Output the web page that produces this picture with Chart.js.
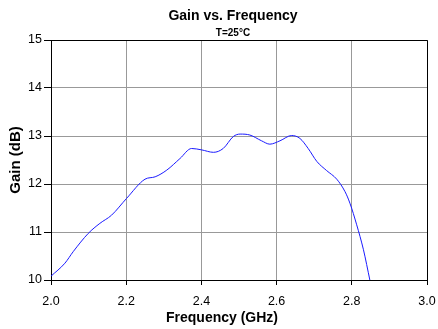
<!DOCTYPE html>
<html>
<head>
<meta charset="utf-8">
<script src="https://cdn.jsdelivr.net/npm/chart.js@4/dist/chart.umd.min.js"></script>
<style>
  body { margin: 0; background: #fff; }
  canvas { display: block; }
</style>
</head>
<body>
<canvas id="myChart" width="438" height="329"></canvas>
<script>
// --- data --- //
let freqGHz = [2.0, 2.037, 2.059, 2.099, 2.13, 2.161, 2.201, 2.25, 2.277, 2.308, 2.343, 2.374, 2.401, 2.432, 2.458, 2.485, 2.503, 2.529, 2.56, 2.582, 2.609, 2.64, 2.662, 2.684, 2.707, 2.733, 2.76, 2.782, 2.795, 2.813, 2.831, 2.848];
let gainDb = [10.08, 10.35, 10.59, 10.97, 11.18, 11.35, 11.7, 12.1, 12.15, 12.29, 12.53, 12.74, 12.71, 12.66, 12.74, 12.99, 13.04, 13.02, 12.9, 12.83, 12.9, 13.01, 12.95, 12.74, 12.47, 12.28, 12.1, 11.84, 11.6, 11.15, 10.63, 10.0];
let xTicks = [2.0, 2.2, 2.4, 2.6, 2.8, 3.0];
let yTicks = [10, 11, 12, 13, 14, 15];

let chartTitle = "Gain vs. Frequency";
let chartSubtitle = "T=25°C";
let xTitle = "Frequency (GHz)";
let yTitle = "Gain (dB)";

const fontFamily = '"Liberation Sans", Arial, sans-serif';

// frame on top/right + titles placed like the excel original
const framePlugin = {
  id: "frameAndTitles",
  afterDraw(chart) {
    const ctx = chart.ctx;
    const area = chart.chartArea;
    ctx.save();
    ctx.strokeStyle = "#000";
    ctx.lineWidth = 1;
    ctx.beginPath();
    ctx.moveTo(area.left, area.top + 0.5);
    ctx.lineTo(area.right + 0.5, area.top + 0.5);
    ctx.lineTo(area.right + 0.5, area.bottom);
    ctx.stroke();

    ctx.fillStyle = "#000";
    ctx.textAlign = "center";
    ctx.textBaseline = "alphabetic";
    ctx.font = "bold 14px " + fontFamily;
    ctx.fillText(chartTitle, 233, 20);
    ctx.font = "bold 10px " + fontFamily;
    ctx.fillText(chartSubtitle, 233, 36);
    ctx.font = "bold 14px " + fontFamily;
    ctx.fillText(xTitle, 222, 322);
    ctx.restore();
  },
};

const ctx = document.getElementById("myChart");

let myChart = new Chart(ctx, {
  type: "line",
  data: {
    datasets: [
      {
        label: "Gain",
        data: freqGHz.map((f, i) => ({ x: f, y: gainDb[i] })),
        borderColor: "#1a1aff",
        borderWidth: 1,
        pointRadius: 0,
        fill: false,
        cubicInterpolationMode: "monotone",
      },
    ],
  },
  options: {
    responsive: false,
    animation: false,
    devicePixelRatio: 1,
    layout: {
      padding: { top: 40, right: 11, bottom: 0, left: 0 },
    },
    plugins: {
      legend: { display: false },
      tooltip: { enabled: false },
      title: { display: false },
    },
    scales: {
      x: {
        type: "linear",
        min: xTicks[0],
        max: xTicks[xTicks.length - 1],
        afterBuildTicks: (scale) => {
          scale.ticks = xTicks.map((v) => ({ value: v }));
        },
        afterFit: (scale) => {
          scale.height = 49;
          scale.paddingLeft = 0;
          scale.paddingRight = 0;
        },
        ticks: {
          color: "#000",
          padding: 9,
          font: { family: fontFamily, size: 12.5 },
          callback: (v) => Number(v).toFixed(1),
        },
        grid: {
          color: "#999",
          tickColor: "#000",
          tickLength: 5,
        },
        border: { color: "#000", width: 1 },
      },
      y: {
        min: yTicks[0],
        max: yTicks[yTicks.length - 1],
        afterBuildTicks: (scale) => {
          scale.ticks = yTicks.map((v) => ({ value: v }));
        },
        afterFit: (scale) => {
          scale.width = 51;
          scale.paddingTop = 0;
          scale.paddingBottom = 0;
        },
        ticks: {
          color: "#000",
          padding: 2,
          font: { family: fontFamily, size: 12.5 },
        },
        grid: {
          color: "#999",
          tickColor: "#000",
          tickLength: 7,
        },
        border: { color: "#000", width: 1 },
        title: {
          display: true,
          text: yTitle,
          color: "#000",
          padding: { top: 7, bottom: 0 },
          font: { family: fontFamily, size: 15, weight: "bold" },
        },
      },
    },
  },
  plugins: [framePlugin],
});
</script>
</body>
</html>
